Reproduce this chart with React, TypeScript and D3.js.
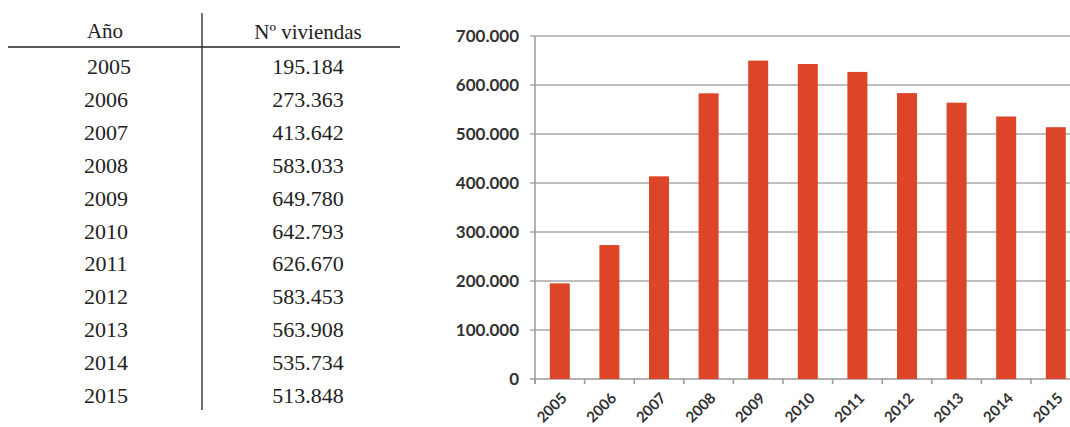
import React from "react";
import * as d3 from "d3";

const years = ["2005","2006","2007","2008","2009","2010","2011","2012","2013","2014","2015"];
const viviendas = [195184,273363,413642,583033,649780,642793,626670,583453,563908,535734,513848];
const yTicks = [0,100000,200000,300000,400000,500000,600000,700000];
const headerYear = "Año";
const headerValue = "Nº viviendas";

const fmt = (v: number) => {
  if (v === 0) return "0";
  const s = String(v);
  return s.replace(/\B(?=(\d{3})+(?!\d))/g, ".");
};

export default function App() {
  const W = 1070, H = 427;
  const y = d3.scaleLinear().domain([0, 700000]).range([379, 36]);
  const band = d3.scaleBand<string>().domain(years).range([535, 535 + 11 * 49.6]);
  const rowY = d3.scaleLinear().domain([0, 10]).range([74, 403]);
  const serif = "'Liberation Serif', 'Times New Roman', serif";
  const sans = "Lato, 'Open Sans', sans-serif";
  const barW = 20;
  return (
    <svg width={W} height={H} style={{ position: "absolute", left: 0, top: 0, background: "#fff" }}>
      {/* table */}
      <line x1={8} x2={400} y1={47} y2={47} stroke="#222" strokeWidth={1.3} />
      <line x1={202} x2={202} y1={13} y2={410} stroke="#222" strokeWidth={1.3} />
      <text x={105} y={38} textAnchor="middle" fontFamily={serif} fontSize={21} fill="#222">{headerYear}</text>
      <text x={308} y={39} textAnchor="middle" fontFamily={serif} fontSize={21} fill="#222">{headerValue}</text>
      {years.map((yr, i) => (
        <g key={yr}>
          <text x={i === 0 ? 109 : 106} y={rowY(i)} textAnchor="middle" fontFamily={serif} fontSize={22} fill="#222">{yr}</text>
          <text x={308} y={rowY(i)} textAnchor="middle" fontFamily={serif} fontSize={22} fill="#222">{fmt(viviendas[i])}</text>
        </g>
      ))}
      {/* chart gridlines */}
      {yTicks.map((t) => (
        <g key={t}>
          <line x1={530} x2={W} y1={y(t)} y2={y(t)} stroke={t === 0 ? "#999" : "#aaa"} strokeWidth={1.5} />
          <text x={519} y={y(t)} dy="0.36em" textAnchor="end" fontFamily={sans} fontWeight={700} fontSize={17} fill="#333">{fmt(t)}</text>
        </g>
      ))}
      <line x1={535} x2={535} y1={36} y2={384} stroke="#999" strokeWidth={1.5} />
      {years.map((yr) => (
        <line key={"t" + yr} x1={band(yr)!} x2={band(yr)!} y1={379} y2={384} stroke="#999" strokeWidth={1.5} />
      ))}
      <line x1={band("2015")! + band.bandwidth()} x2={band("2015")! + band.bandwidth()} y1={379} y2={384} stroke="#999" strokeWidth={1.5} />
      {years.map((yr, i) => {
        const cx = band(yr)! + band.bandwidth() / 2;
        return (
          <rect key={"b" + yr} x={cx - barW / 2} y={y(viviendas[i])} width={barW} height={y(0) - y(viviendas[i])} fill="#dc4528" />
        );
      })}
      {years.map((yr) => {
        const cx = band(yr)! + band.bandwidth() / 2;
        const ax = cx + 8, ay = 399;
        return (
          <text key={"l" + yr} x={ax} y={ay} transform={`rotate(-45 ${ax} ${ay})`} textAnchor="end" fontFamily={sans} fontWeight={700} fontSize={15} fill="#333">{yr}</text>
        );
      })}
    </svg>
  );
}
